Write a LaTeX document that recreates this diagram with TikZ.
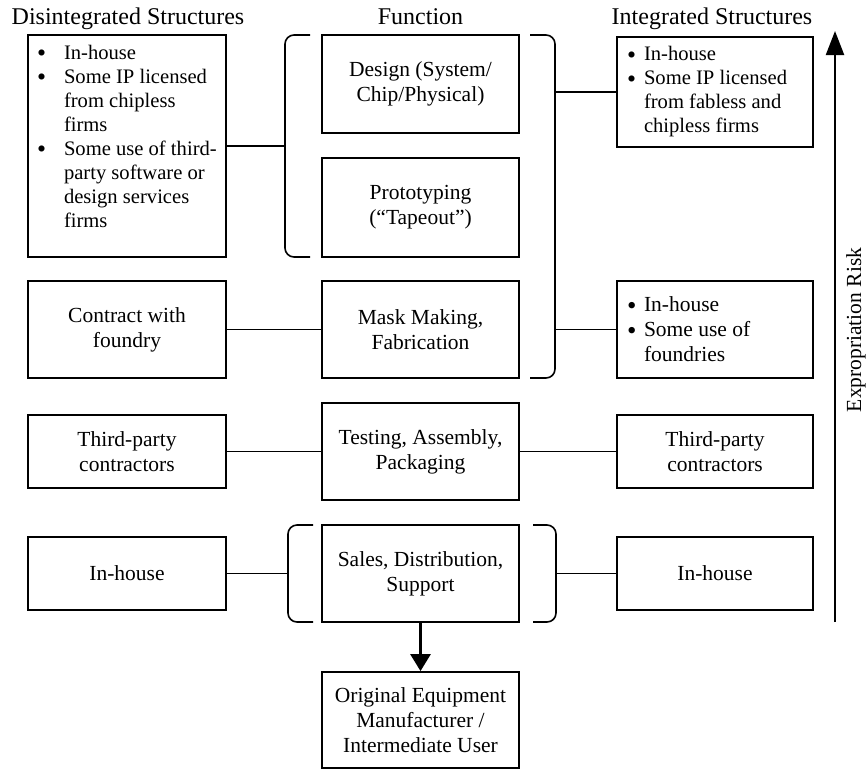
\documentclass[tikz,border=0pt]{standalone}
\usepackage{fontspec}
\usepackage{graphicx}
\setmainfont{Liberation Serif}
\usetikzlibrary{arrows.meta}

% type sizes (1pt of the picture = 1px of the page image)
\newcommand\bodysize{\fontsize{21.5}{25}\selectfont}
\newcommand\listsize{\fontsize{20.6}{24}\selectfont}
\newcommand\headsize{\fontsize{24}{28}\selectfont}
% list lines: #1 line width, #2 text indent, #3 marker, #4 text
\newcommand\bigbul{\raisebox{-2.5pt}{\scalebox{1.25}{\textbullet}}}
\newcommand\lstline[4]{\makebox[#1][l]{\makebox[#2][l]{#3}#4}}
% left list: bullet 9pt, text 36pt from the frame
\newcommand\litem[1]{\lstline{180pt}{27pt}{\bigbul}{#1}}
\newcommand\lcont[1]{\lstline{180pt}{27pt}{}{#1}}
% right lists: bullet 9pt, text 26pt from the frame
\newcommand\ritem[1]{\lstline{176pt}{17pt}{\bigbul}{#1}}
\newcommand\rcont[1]{\lstline{176pt}{17pt}{}{#1}}

\begin{document}
\begin{tikzpicture}[x=1pt,y=-1pt,
  box/.style={draw, line width=1.8pt, inner sep=0pt, align=center,
    font=\bodysize, minimum width=197pt, minimum height=97pt},
  llist/.style={box, align=left, inner xsep=9pt, font=\listsize},
  rlist/.style={box, align=left, inner xsep=9pt},
  heading/.style={font=\headsize, anchor=base, inner sep=0pt},
  bracket/.style={line width=1.6pt, rounded corners=9pt},
  link/.style={line width=1.7pt}]

\fill[white] (0,0) rectangle (867,769);
\useasboundingbox (0,0) rectangle (867,769);

% column headings
\node[heading] (hdis) at (128,24) {Disintegrated Structures};
\node[heading] (hfun) at (420.5,24) {Function};
\node[heading] (hint) at (712,24) {Integrated Structures};

% value-chain functions
\node[box, minimum height=98pt] (design) at (420.5,84) {Design (System/\\Chip/Physical)};
\node[box, minimum height=99pt] (proto) at (420.5,207.5) {Prototyping\\(``Tapeout'')};
\node[box] (mask) at (420.5,329.5) {Mask Making,\\Fabrication};
\node[box] (test) at (420.5,451.5) {Testing, Assembly,\\Packaging};
\node[box] (sales) at (420.5,573.5) {Sales, Distribution,\\Support};
\node[box, minimum height=96pt] (oem) at (420.5,720) {Original Equipment\\Manufacturer /\\Intermediate User};

% disintegrated structures
\node[llist, minimum width=198pt, minimum height=222pt] (dis1) at (127,146) {%
  \litem{In-house}\\
  \litem{Some IP licensed}\\
  \lcont{from chipless}\\
  \lcont{firms}\\
  \litem{Some use of third-}\\
  \lcont{party software or}\\
  \lcont{design services}\\
  \lcont{firms}\rule[-20pt]{0pt}{20pt}};
\node[box, minimum width=198pt] (dis2) at (127,329.5) {Contract with\\foundry};
\node[box, minimum width=198pt, minimum height=73pt] (dis3) at (127,451.5) {Third-party\\contractors};
\node[box, minimum width=198pt, minimum height=73pt] (dis4) at (127,573.5) {In-house};

% integrated structures
\node[rlist, font=\listsize, minimum width=196pt, minimum height=110pt] (int1) at (715,92) {%
  \ritem{In-house}\\
  \ritem{Some IP licensed}\\
  \rcont{from fabless and}\\
  \rcont{chipless firms}};
\node[rlist, minimum width=196pt] (int2) at (715,329.5) {%
  \ritem{In-house}\\
  \ritem{Some use of}\\
  \rcont{foundries}};
\node[box, minimum width=196pt, minimum height=73pt] (int3) at (715,451.5) {Third-party\\contractors};
\node[box, minimum width=196pt, minimum height=73pt] (int4) at (715,573.5) {In-house};

% brackets grouping functions
\draw[bracket] (310,35) -- (285,35) -- (285,257) -- (310,257);
\draw[bracket] (530,35) -- (555,35) -- (555,378) -- (530,378);
\draw[bracket] (313,525) -- (288,525) -- (288,622) -- (313,622);
\draw[bracket] (533,525) -- (556,525) -- (556,622) -- (533,622);
\coordinate (brUL) at (285,146);
\coordinate (brURa) at (555,92);
\coordinate (brURb) at (555,329.5);
\coordinate (brLL) at (288,573.5);
\coordinate (brLR) at (556,573.5);

% connectors
\draw[link] (dis1.east) -- (brUL);
\draw[link] (brURa) -- (int1.west);
\draw[link] (brURb) -- (int2.west);
\draw[link] (dis2.east) -- (mask.west);
\draw[link] (dis3.east) -- (test.west);
\draw[link] (test.east) -- (int3.west);
\draw[link] (dis4.east) -- (brLL);
\draw[link] (brLR) -- (int4.west);
\draw[line width=2.8pt, -{Triangle[length=17pt,width=20pt]}] (sales.south) -- (oem.north);

% expropriation risk axis
\coordinate (riskbot) at (835,622);
\coordinate (risktop) at (835,31);
\draw[line width=2.2pt, -{Triangle[length=24pt,width=18pt]}] (riskbot) -- (risktop);
\node[font=\bodysize, rotate=90, inner sep=0pt] (risk) at (856,330) {Expropriation Risk};
\end{tikzpicture}
\end{document}
